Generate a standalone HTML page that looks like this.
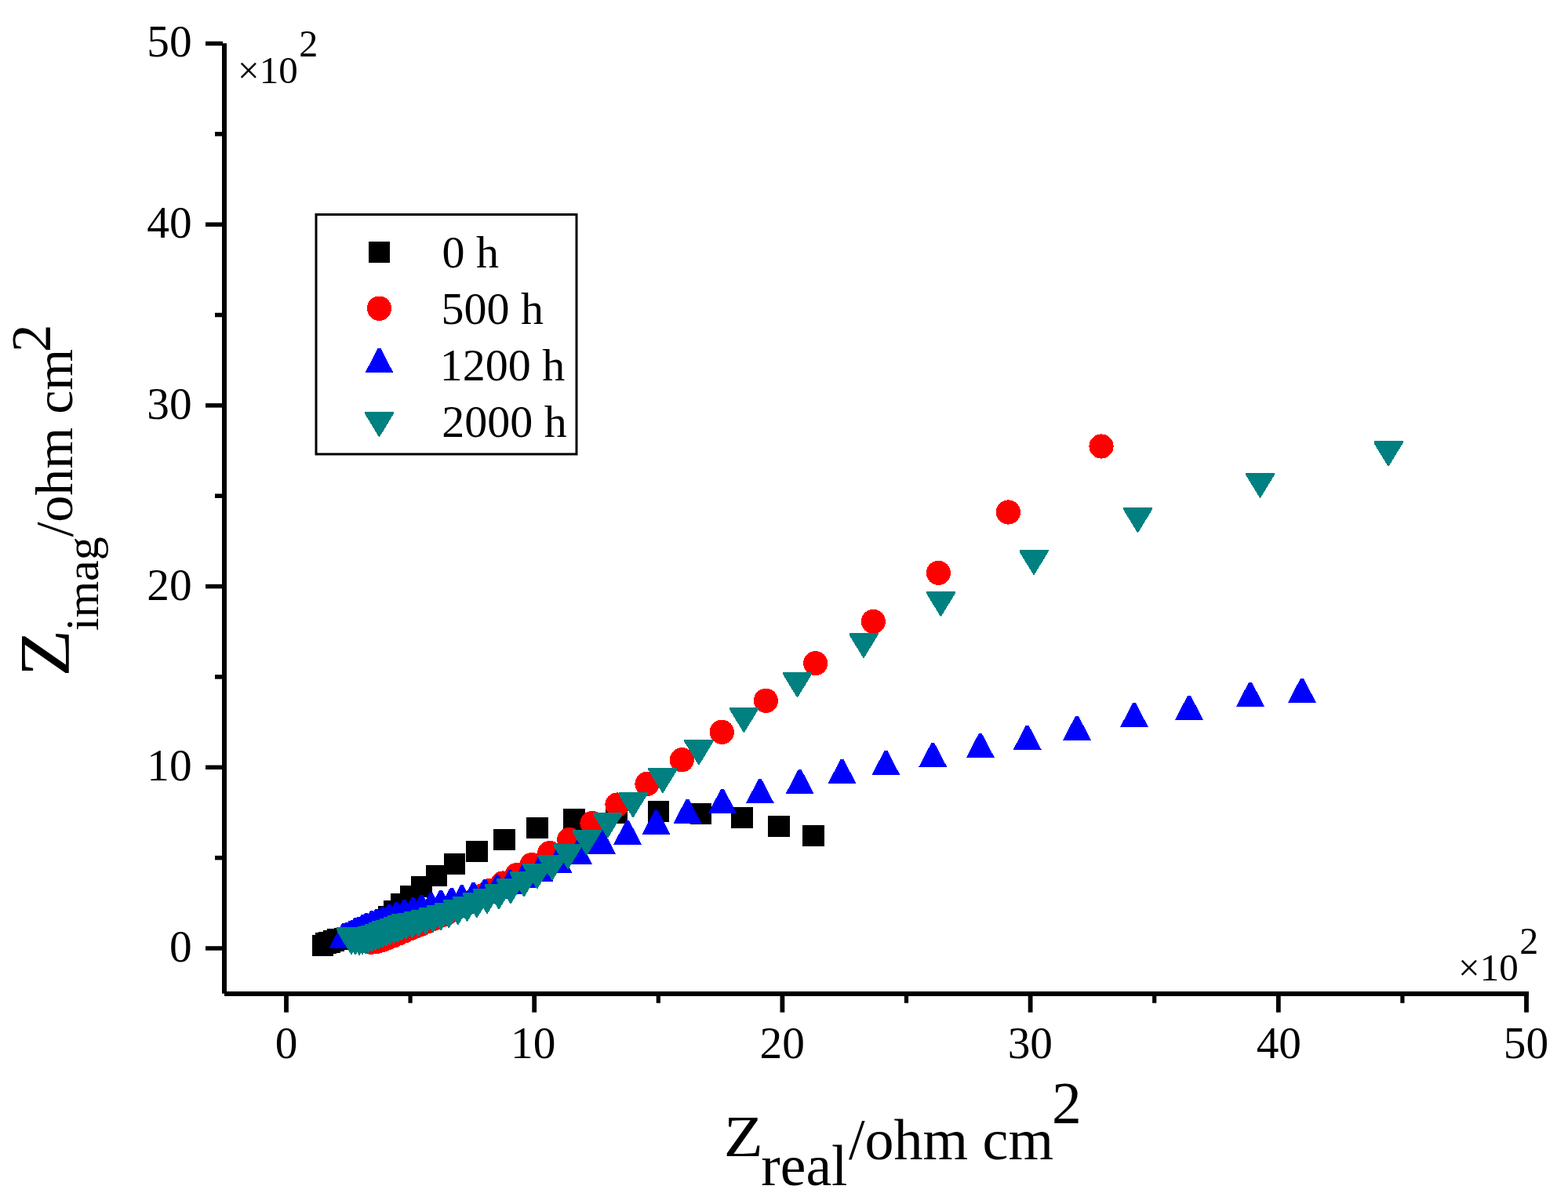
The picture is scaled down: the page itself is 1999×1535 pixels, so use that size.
<!DOCTYPE html>
<html><head><meta charset="utf-8"><title>Nyquist plot</title>
<style>
html,body{margin:0;padding:0;background:#fff;overflow:hidden}
svg{display:block}
text{font-family:"Liberation Serif", "Times New Roman", serif;fill:#000}
</style></head>
<body>
<svg width="1999" height="1535" viewBox="0 0 1999 1535">
<rect width="1999" height="1535" fill="#fff"/>
<g id="markers" shape-rendering="crispEdges">
<rect x="397.75" y="1192.00" width="27.5" height="27" fill="#000"/>
<rect x="401.75" y="1189.00" width="27.5" height="27" fill="#000"/>
<rect x="406.25" y="1188.00" width="27.5" height="27" fill="#000"/>
<rect x="411.75" y="1186.00" width="27.5" height="27" fill="#000"/>
<rect x="416.75" y="1184.00" width="27.5" height="27" fill="#000"/>
<rect x="425.75" y="1182.50" width="27.5" height="27" fill="#000"/>
<rect x="430.25" y="1183.00" width="27.5" height="27" fill="#000"/>
<rect x="438.25" y="1180.50" width="27.5" height="27" fill="#000"/>
<rect x="444.25" y="1177.50" width="27.5" height="27" fill="#000"/>
<rect x="451.25" y="1174.00" width="27.5" height="27" fill="#000"/>
<rect x="458.25" y="1171.00" width="27.5" height="27" fill="#000"/>
<rect x="465.25" y="1167.00" width="27.5" height="27" fill="#000"/>
<rect x="471.25" y="1162.50" width="27.5" height="27" fill="#000"/>
<rect x="481.95" y="1155.20" width="27.5" height="27" fill="#000"/>
<rect x="488.95" y="1148.00" width="27.5" height="27" fill="#000"/>
<rect x="497.85" y="1139.00" width="27.5" height="27" fill="#000"/>
<rect x="509.85" y="1129.20" width="27.5" height="27" fill="#000"/>
<rect x="523.85" y="1117.10" width="27.5" height="27" fill="#000"/>
<rect x="542.85" y="1103.10" width="27.5" height="27" fill="#000"/>
<rect x="565.65" y="1088.00" width="27.5" height="27" fill="#000"/>
<rect x="594.25" y="1072.00" width="27.5" height="27" fill="#000"/>
<rect x="629.25" y="1056.50" width="27.5" height="27" fill="#000"/>
<rect x="671.25" y="1042.00" width="27.5" height="27" fill="#000"/>
<rect x="718.25" y="1031.00" width="27.5" height="27" fill="#000"/>
<rect x="772.25" y="1022.50" width="27.5" height="27" fill="#000"/>
<rect x="825.85" y="1021.00" width="27.5" height="27" fill="#000"/>
<rect x="879.75" y="1024.00" width="27.5" height="27" fill="#000"/>
<rect x="932.15" y="1029.00" width="27.5" height="27" fill="#000"/>
<rect x="979.25" y="1040.00" width="27.5" height="27" fill="#000"/>
<rect x="1023.25" y="1052.00" width="27.5" height="27" fill="#000"/>
<circle cx="473.00" cy="1201.20" r="15.6" fill="#f00"/>
<circle cx="480.00" cy="1200.50" r="15.6" fill="#f00"/>
<circle cx="487.00" cy="1198.50" r="15.6" fill="#f00"/>
<circle cx="494.00" cy="1195.80" r="15.6" fill="#f00"/>
<circle cx="501.00" cy="1193.00" r="15.6" fill="#f00"/>
<circle cx="508.00" cy="1190.00" r="15.6" fill="#f00"/>
<circle cx="515.00" cy="1187.00" r="15.6" fill="#f00"/>
<circle cx="522.00" cy="1184.00" r="15.6" fill="#f00"/>
<circle cx="529.00" cy="1181.20" r="15.6" fill="#f00"/>
<circle cx="536.00" cy="1178.50" r="15.6" fill="#f00"/>
<circle cx="544.00" cy="1175.00" r="15.6" fill="#f00"/>
<circle cx="552.00" cy="1171.50" r="15.6" fill="#f00"/>
<circle cx="561.00" cy="1167.50" r="15.6" fill="#f00"/>
<circle cx="570.00" cy="1163.50" r="15.6" fill="#f00"/>
<circle cx="580.00" cy="1159.00" r="15.6" fill="#f00"/>
<circle cx="591.00" cy="1154.50" r="15.6" fill="#f00"/>
<circle cx="602.00" cy="1149.50" r="15.6" fill="#f00"/>
<circle cx="613.00" cy="1142.50" r="15.6" fill="#f00"/>
<circle cx="625.00" cy="1135.20" r="15.6" fill="#f00"/>
<circle cx="641.00" cy="1126.00" r="15.6" fill="#f00"/>
<circle cx="659.00" cy="1115.60" r="15.6" fill="#f00"/>
<circle cx="678.00" cy="1102.60" r="15.6" fill="#f00"/>
<circle cx="700.80" cy="1087.50" r="15.6" fill="#f00"/>
<circle cx="725.70" cy="1070.50" r="15.6" fill="#f00"/>
<circle cx="755.00" cy="1049.50" r="15.6" fill="#f00"/>
<circle cx="787.00" cy="1026.00" r="15.6" fill="#f00"/>
<circle cx="825.00" cy="999.40" r="15.6" fill="#f00"/>
<circle cx="869.30" cy="968.80" r="15.6" fill="#f00"/>
<circle cx="920.30" cy="933.30" r="15.6" fill="#f00"/>
<circle cx="976.40" cy="893.30" r="15.6" fill="#f00"/>
<circle cx="1039.60" cy="845.60" r="15.6" fill="#f00"/>
<circle cx="1113.40" cy="792.40" r="15.6" fill="#f00"/>
<circle cx="1196.40" cy="730.40" r="15.6" fill="#f00"/>
<circle cx="1285.40" cy="653.00" r="15.6" fill="#f00"/>
<circle cx="1404.00" cy="569.00" r="15.6" fill="#f00"/>
<polygon points="419.70,1208.50 435.90,1177.40 439.50,1177.40 455.70,1208.50" fill="#00f"/>
<polygon points="424.00,1206.90 440.20,1175.80 443.80,1175.80 460.00,1206.90" fill="#00f"/>
<polygon points="428.00,1205.40 444.20,1174.30 447.80,1174.30 464.00,1205.40" fill="#00f"/>
<polygon points="431.50,1204.00 447.70,1172.90 451.30,1172.90 467.50,1204.00" fill="#00f"/>
<polygon points="435.00,1201.20 451.20,1170.10 454.80,1170.10 471.00,1201.20" fill="#00f"/>
<polygon points="439.20,1200.20 455.40,1169.10 459.00,1169.10 475.20,1200.20" fill="#00f"/>
<polygon points="444.40,1196.90 460.60,1165.80 464.20,1165.80 480.40,1196.90" fill="#00f"/>
<polygon points="449.20,1194.80 465.40,1163.70 469.00,1163.70 485.20,1194.80" fill="#00f"/>
<polygon points="455.80,1191.80 472.00,1160.70 475.60,1160.70 491.80,1191.80" fill="#00f"/>
<polygon points="462.10,1190.00 478.30,1158.90 481.90,1158.90 498.10,1190.00" fill="#00f"/>
<polygon points="469.90,1187.00 486.10,1155.90 489.70,1155.90 505.90,1187.00" fill="#00f"/>
<polygon points="478.30,1183.70 494.50,1152.60 498.10,1152.60 514.30,1183.70" fill="#00f"/>
<polygon points="487.60,1180.70 503.80,1149.60 507.40,1149.60 523.60,1180.70" fill="#00f"/>
<polygon points="497.50,1178.00 513.70,1146.90 517.30,1146.90 533.50,1178.00" fill="#00f"/>
<polygon points="508.60,1175.00 524.80,1143.90 528.40,1143.90 544.60,1175.00" fill="#00f"/>
<polygon points="519.40,1171.90 535.60,1140.80 539.20,1140.80 555.40,1171.90" fill="#00f"/>
<polygon points="531.40,1169.00 547.60,1137.90 551.20,1137.90 567.40,1169.00" fill="#00f"/>
<polygon points="543.90,1165.90 560.10,1134.80 563.70,1134.80 579.90,1165.90" fill="#00f"/>
<polygon points="557.80,1162.70 574.00,1131.60 577.60,1131.60 593.80,1162.70" fill="#00f"/>
<polygon points="570.80,1159.30 587.00,1128.20 590.60,1128.20 606.80,1159.30" fill="#00f"/>
<polygon points="585.40,1155.90 601.60,1124.80 605.20,1124.80 621.40,1155.90" fill="#00f"/>
<polygon points="600.00,1152.00 616.20,1120.90 619.80,1120.90 636.00,1152.00" fill="#00f"/>
<polygon points="616.10,1145.70 632.30,1114.60 635.90,1114.60 652.10,1145.70" fill="#00f"/>
<polygon points="632.30,1140.00 648.50,1108.90 652.10,1108.90 668.30,1140.00" fill="#00f"/>
<polygon points="650.00,1132.00 666.20,1100.90 669.80,1100.90 686.00,1132.00" fill="#00f"/>
<polygon points="669.50,1124.20 685.70,1093.10 689.30,1093.10 705.50,1124.20" fill="#00f"/>
<polygon points="693.30,1112.70 709.50,1081.60 713.10,1081.60 729.30,1112.70" fill="#00f"/>
<polygon points="719.00,1101.70 735.20,1070.60 738.80,1070.60 755.00,1101.70" fill="#00f"/>
<polygon points="749.30,1089.30 765.50,1058.20 769.10,1058.20 785.30,1089.30" fill="#00f"/>
<polygon points="782.10,1076.80 798.30,1045.70 801.90,1045.70 818.10,1076.80" fill="#00f"/>
<polygon points="818.60,1063.70 834.80,1032.60 838.40,1032.60 854.60,1063.70" fill="#00f"/>
<polygon points="858.40,1049.90 874.60,1018.80 878.20,1018.80 894.40,1049.90" fill="#00f"/>
<polygon points="903.00,1036.70 919.20,1005.60 922.80,1005.60 939.00,1036.70" fill="#00f"/>
<polygon points="950.90,1024.10 967.10,993.00 970.70,993.00 986.90,1024.10" fill="#00f"/>
<polygon points="1001.70,1011.90 1017.90,980.80 1021.50,980.80 1037.70,1011.90" fill="#00f"/>
<polygon points="1055.50,998.90 1071.70,967.80 1075.30,967.80 1091.50,998.90" fill="#00f"/>
<polygon points="1111.40,988.00 1127.60,956.90 1131.20,956.90 1147.40,988.00" fill="#00f"/>
<polygon points="1171.30,977.90 1187.50,946.80 1191.10,946.80 1207.30,977.90" fill="#00f"/>
<polygon points="1231.80,965.90 1248.00,934.80 1251.60,934.80 1267.80,965.90" fill="#00f"/>
<polygon points="1291.70,955.80 1307.90,924.70 1311.50,924.70 1327.70,955.80" fill="#00f"/>
<polygon points="1355.00,943.70 1371.20,912.60 1374.80,912.60 1391.00,943.70" fill="#00f"/>
<polygon points="1428.00,927.10 1444.20,896.00 1447.80,896.00 1464.00,927.10" fill="#00f"/>
<polygon points="1498.00,917.70 1514.20,886.60 1517.80,886.60 1534.00,917.70" fill="#00f"/>
<polygon points="1576.00,900.70 1592.20,869.60 1595.80,869.60 1612.00,900.70" fill="#00f"/>
<polygon points="1641.90,895.80 1658.10,864.70 1661.70,864.70 1677.90,895.80" fill="#00f"/>
<polygon points="428.90,1182.20 465.90,1182.20 465.90,1184.80 448.00,1214.20 446.80,1214.20 428.90,1184.80" fill="#008080"/>
<polygon points="429.50,1184.80 466.50,1184.80 466.50,1187.40 448.60,1216.80 447.40,1216.80 429.50,1187.40" fill="#008080"/>
<polygon points="434.50,1185.15 471.50,1185.15 471.50,1187.75 453.60,1217.15 452.40,1217.15 434.50,1187.75" fill="#008080"/>
<polygon points="439.50,1185.50 476.50,1185.50 476.50,1188.10 458.60,1217.50 457.40,1217.50 439.50,1188.10" fill="#008080"/>
<polygon points="443.50,1184.80 480.50,1184.80 480.50,1187.40 462.60,1216.80 461.40,1216.80 443.50,1187.40" fill="#008080"/>
<polygon points="447.50,1184.10 484.50,1184.10 484.50,1186.70 466.60,1216.10 465.40,1216.10 447.50,1186.70" fill="#008080"/>
<polygon points="451.00,1182.82 488.00,1182.82 488.00,1185.42 470.10,1214.82 468.90,1214.82 451.00,1185.42" fill="#008080"/>
<polygon points="455.50,1181.17 492.50,1181.17 492.50,1183.77 474.60,1213.17 473.40,1213.17 455.50,1183.77" fill="#008080"/>
<polygon points="460.00,1179.51 497.00,1179.51 497.00,1182.11 479.10,1211.51 477.90,1211.51 460.00,1182.11" fill="#008080"/>
<polygon points="464.50,1177.80 501.50,1177.80 501.50,1180.40 483.60,1209.80 482.40,1209.80 464.50,1180.40" fill="#008080"/>
<polygon points="469.50,1175.90 506.50,1175.90 506.50,1178.50 488.60,1207.90 487.40,1207.90 469.50,1178.50" fill="#008080"/>
<polygon points="474.00,1174.25 511.00,1174.25 511.00,1176.85 493.10,1206.25 491.90,1206.25 474.00,1176.85" fill="#008080"/>
<polygon points="478.50,1172.60 515.50,1172.60 515.50,1175.20 497.60,1204.60 496.40,1204.60 478.50,1175.20" fill="#008080"/>
<polygon points="483.50,1170.85 520.50,1170.85 520.50,1173.45 502.60,1202.85 501.40,1202.85 483.50,1173.45" fill="#008080"/>
<polygon points="488.50,1169.10 525.50,1169.10 525.50,1171.70 507.60,1201.10 506.40,1201.10 488.50,1171.70" fill="#008080"/>
<polygon points="493.50,1167.35 530.50,1167.35 530.50,1169.95 512.60,1199.35 511.40,1199.35 493.50,1169.95" fill="#008080"/>
<polygon points="499.20,1165.46 536.20,1165.46 536.20,1168.06 518.30,1197.46 517.10,1197.46 499.20,1168.06" fill="#008080"/>
<polygon points="507.00,1163.90 544.00,1163.90 544.00,1166.50 526.10,1195.90 524.90,1195.90 507.00,1166.50" fill="#008080"/>
<polygon points="515.00,1162.10 552.00,1162.10 552.00,1164.70 534.10,1194.10 532.90,1194.10 515.00,1164.70" fill="#008080"/>
<polygon points="524.10,1159.60 561.10,1159.60 561.10,1162.20 543.20,1191.60 542.00,1191.60 524.10,1162.20" fill="#008080"/>
<polygon points="533.50,1156.50 570.50,1156.50 570.50,1159.10 552.60,1188.50 551.40,1188.50 533.50,1159.10" fill="#008080"/>
<polygon points="543.50,1154.10 580.50,1154.10 580.50,1156.70 562.60,1186.10 561.40,1186.10 543.50,1156.70" fill="#008080"/>
<polygon points="553.70,1151.10 590.70,1151.10 590.70,1153.70 572.80,1183.10 571.60,1183.10 553.70,1153.70" fill="#008080"/>
<polygon points="565.30,1147.10 602.30,1147.10 602.30,1149.70 584.40,1179.10 583.20,1179.10 565.30,1149.70" fill="#008080"/>
<polygon points="577.00,1142.60 614.00,1142.60 614.00,1145.20 596.10,1174.60 594.90,1174.60 577.00,1145.20" fill="#008080"/>
<polygon points="589.50,1138.00 626.50,1138.00 626.50,1140.60 608.60,1170.00 607.40,1170.00 589.50,1140.60" fill="#008080"/>
<polygon points="602.50,1132.80 639.50,1132.80 639.50,1135.40 621.60,1164.80 620.40,1164.80 602.50,1135.40" fill="#008080"/>
<polygon points="617.50,1127.20 654.50,1127.20 654.50,1129.80 636.60,1159.20 635.40,1159.20 617.50,1129.80" fill="#008080"/>
<polygon points="632.50,1120.10 669.50,1120.10 669.50,1122.70 651.60,1152.10 650.40,1152.10 632.50,1122.70" fill="#008080"/>
<polygon points="649.50,1111.20 686.50,1111.20 686.50,1113.80 668.60,1143.20 667.40,1143.20 649.50,1113.80" fill="#008080"/>
<polygon points="666.10,1101.10 703.10,1101.10 703.10,1103.70 685.20,1133.10 684.00,1133.10 666.10,1103.70" fill="#008080"/>
<polygon points="685.50,1090.10 722.50,1090.10 722.50,1092.70 704.60,1122.10 703.40,1122.10 685.50,1092.70" fill="#008080"/>
<polygon points="705.50,1075.80 742.50,1075.80 742.50,1078.40 724.60,1107.80 723.40,1107.80 705.50,1078.40" fill="#008080"/>
<polygon points="729.50,1058.10 766.50,1058.10 766.50,1060.70 748.60,1090.10 747.40,1090.10 729.50,1060.70" fill="#008080"/>
<polygon points="756.30,1036.00 793.30,1036.00 793.30,1038.60 775.40,1068.00 774.20,1068.00 756.30,1038.60" fill="#008080"/>
<polygon points="788.50,1010.10 825.50,1010.10 825.50,1012.70 807.60,1042.10 806.40,1042.10 788.50,1012.70" fill="#008080"/>
<polygon points="826.40,979.00 863.40,979.00 863.40,981.60 845.50,1011.00 844.30,1011.00 826.40,981.60" fill="#008080"/>
<polygon points="872.40,943.10 909.40,943.10 909.40,945.70 891.50,975.10 890.30,975.10 872.40,945.70" fill="#008080"/>
<polygon points="929.90,901.80 966.90,901.80 966.90,904.40 949.00,933.80 947.80,933.80 929.90,904.40" fill="#008080"/>
<polygon points="998.00,857.00 1035.00,857.00 1035.00,859.60 1017.10,889.00 1015.90,889.00 998.00,859.60" fill="#008080"/>
<polygon points="1082.50,806.80 1119.50,806.80 1119.50,809.40 1101.60,838.80 1100.40,838.80 1082.50,809.40" fill="#008080"/>
<polygon points="1180.90,753.80 1217.90,753.80 1217.90,756.40 1200.00,785.80 1198.80,785.80 1180.90,756.40" fill="#008080"/>
<polygon points="1299.50,700.80 1336.50,700.80 1336.50,703.40 1318.60,732.80 1317.40,732.80 1299.50,703.40" fill="#008080"/>
<polygon points="1432.00,646.90 1469.00,646.90 1469.00,649.50 1451.10,678.90 1449.90,678.90 1432.00,649.50" fill="#008080"/>
<polygon points="1588.00,602.60 1625.00,602.60 1625.00,605.20 1607.10,634.60 1605.90,634.60 1588.00,605.20" fill="#008080"/>
<polygon points="1751.50,562.40 1788.50,562.40 1788.50,565.00 1770.60,594.40 1769.40,594.40 1751.50,565.00" fill="#008080"/>
<rect x="469.75" y="307.80" width="27.5" height="27" fill="#000"/>
<circle cx="483.50" cy="393.20" r="15.6" fill="#f00"/>
<polygon points="465.50,475.20 481.70,444.10 485.30,444.10 501.50,475.20" fill="#00f"/>
<polygon points="465.00,524.80 502.00,524.80 502.00,527.40 484.10,556.80 482.90,556.80 465.00,527.40" fill="#008080"/>
</g>
<g id="axes">
<rect x="283" y="55.2" width="6" height="1211.5" fill="#000"/>
<rect x="286" y="1264" width="1663" height="6" fill="#000"/>
<rect x="262" y="1206.25" width="22" height="5.5" fill="#000"/>
<rect x="262" y="975.55" width="22" height="5.5" fill="#000"/>
<rect x="262" y="744.85" width="22" height="5.5" fill="#000"/>
<rect x="262" y="514.15" width="22" height="5.5" fill="#000"/>
<rect x="262" y="283.45" width="22" height="5.5" fill="#000"/>
<rect x="262" y="52.75" width="22" height="5.5" fill="#000"/>
<rect x="274" y="1090.90" width="10" height="5.5" fill="#000"/>
<rect x="274" y="860.20" width="10" height="5.5" fill="#000"/>
<rect x="274" y="629.50" width="10" height="5.5" fill="#000"/>
<rect x="274" y="398.80" width="10" height="5.5" fill="#000"/>
<rect x="274" y="168.10" width="10" height="5.5" fill="#000"/>
<rect x="362.10" y="1268" width="5.8" height="22.7" fill="#000"/>
<rect x="678.30" y="1268" width="5.8" height="22.7" fill="#000"/>
<rect x="994.50" y="1268" width="5.8" height="22.7" fill="#000"/>
<rect x="1310.70" y="1268" width="5.8" height="22.7" fill="#000"/>
<rect x="1626.90" y="1268" width="5.8" height="22.7" fill="#000"/>
<rect x="1943.10" y="1268" width="5.8" height="22.7" fill="#000"/>
<rect x="520.50" y="1268" width="5.2" height="10.8" fill="#000"/>
<rect x="836.70" y="1268" width="5.2" height="10.8" fill="#000"/>
<rect x="1152.90" y="1268" width="5.2" height="10.8" fill="#000"/>
<rect x="1469.10" y="1268" width="5.2" height="10.8" fill="#000"/>
<rect x="1785.30" y="1268" width="5.2" height="10.8" fill="#000"/>
<text x="215.93" y="1225.90" font-size="57.3" text-anchor="start">0</text>
<text x="187.28" y="995.20" font-size="57.3" text-anchor="start">10</text>
<text x="187.28" y="764.50" font-size="57.3" text-anchor="start">20</text>
<text x="187.28" y="533.80" font-size="57.3" text-anchor="start">30</text>
<text x="187.28" y="303.10" font-size="57.3" text-anchor="start">40</text>
<text x="187.28" y="72.40" font-size="57.3" text-anchor="start">50</text>
<text x="350.68" y="1349.30" font-size="57.3" text-anchor="start">0</text>
<text x="651.12" y="1349.30" font-size="57.3" text-anchor="start">10</text>
<text x="968.58" y="1349.30" font-size="57.3" text-anchor="start">20</text>
<text x="1284.67" y="1349.30" font-size="57.3" text-anchor="start">30</text>
<text x="1601.68" y="1349.30" font-size="57.3" text-anchor="start">40</text>
<text x="1916.78" y="1349.30" font-size="57.3" text-anchor="start">50</text>
<text x="303.12" y="105.80" font-size="49" text-anchor="start">×10</text>
<text x="381.27" y="72.20" font-size="48" text-anchor="start">2</text>
<text x="1859.02" y="1249.80" font-size="49" text-anchor="start">×10</text>
<text x="1937.17" y="1216.00" font-size="48" text-anchor="start">2</text>
<text x="923.30" y="1473.70" font-size="73.2" text-anchor="start" transform="translate(926.8 0) scale(1.12 1) translate(-926.8 0)">Z</text>
<text x="970.33" y="1510.70" font-size="73.5" text-anchor="start">real</text>
<text x="1082.00" y="1477.80" font-size="74.0" text-anchor="start">/ohm cm</text>
<text x="1340.95" y="1432.00" font-size="75.5" text-anchor="start">2</text>
<text transform="translate(88.00 862.71) rotate(-90) scale(1.075 1)" font-size="91.6">Z</text>
<text transform="translate(125.30 804.26) rotate(-90)" font-size="60.0">imag</text>
<text transform="translate(92.00 684.60) rotate(-90)" font-size="68.0">/ohm cm</text>
<text transform="translate(64.00 449.12) rotate(-90)" font-size="71.0">2</text>
<rect x="403" y="273.5" width="332" height="305.5" fill="none" stroke="#000" stroke-width="3"/>
<text x="563.59" y="340.90" font-size="58" text-anchor="start">0 h</text>
<text x="562.43" y="412.80" font-size="58" text-anchor="start">500 h</text>
<text x="560.70" y="484.70" font-size="58" text-anchor="start">1200 h</text>
<text x="563.25" y="556.60" font-size="58" text-anchor="start">2000 h</text>
</g>
</svg>
</body></html>
